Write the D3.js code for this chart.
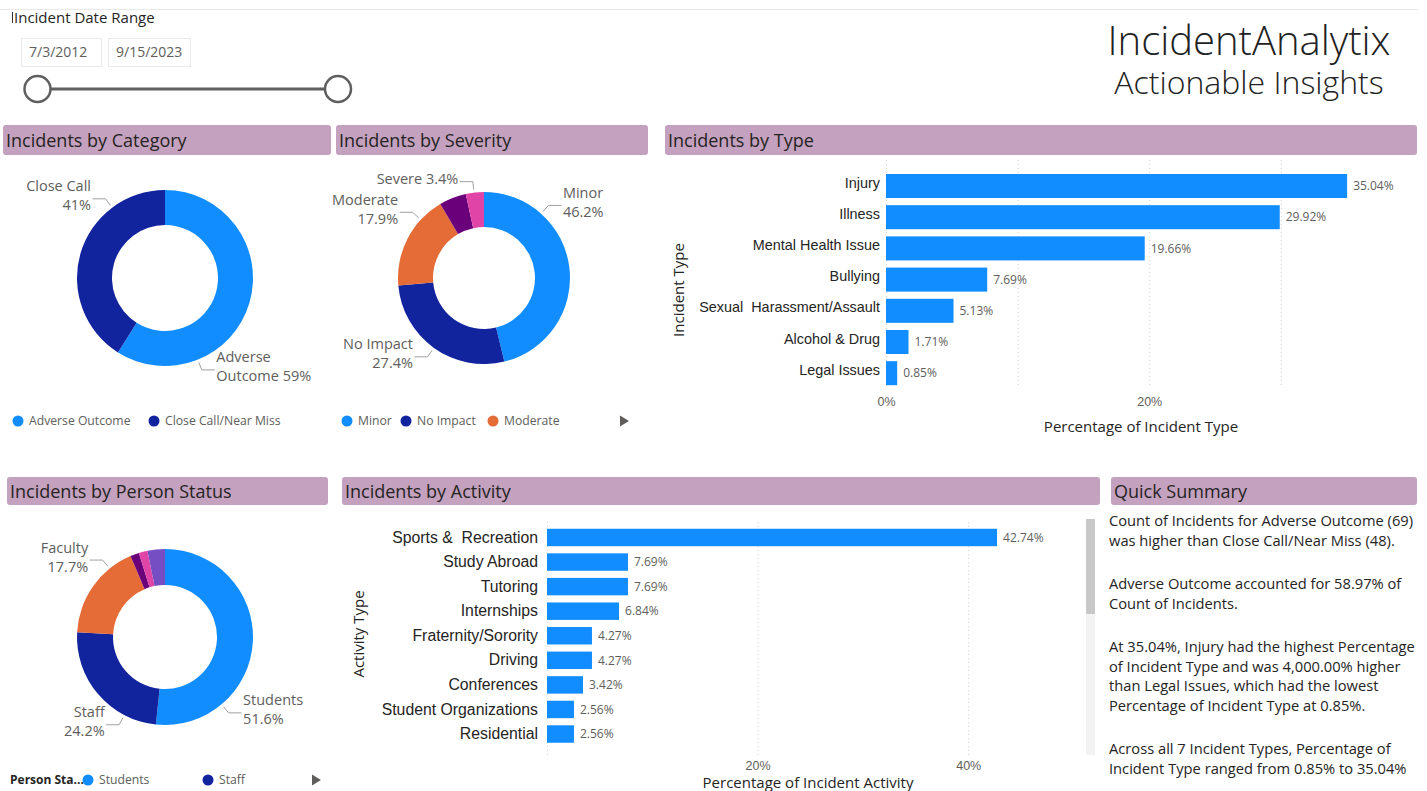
<!DOCTYPE html>
<html><head><meta charset="utf-8">
<script src="https://cdn.jsdelivr.net/npm/d3@7"></script>
<style>
body{margin:0;background:#fff;}
svg{display:block;font-family:"Open Sans","Noto Sans",sans-serif;}
text{white-space:pre;}
</style></head><body>
<svg id="c" width="1427" height="791"></svg>
<script>
// ---------- DATA ----------
const dateRange = ["7/3/2012", "9/15/2023"];
const categoryNames = ["Adverse Outcome", "Close Call/Near Miss"];
const categoryShort = ["Adverse Outcome", "Close Call"];
const categoryCounts = [69, 48];
const severityNames = ["Minor", "No Impact", "Moderate", "Major", "Severe"];
const severityPct = [46.2, 27.4, 17.9, 5.1, 3.4];
const personNames = ["Students", "Staff", "Faculty", "Contractors", "Visitors", "Volunteers"];
const personPct = [51.6, 24.2, 17.7, 1.6, 1.6, 3.2];
const typeNames = ["Injury", "Illness", "Mental Health Issue", "Bullying", "Sexual  Harassment/Assault", "Alcohol & Drug", "Legal Issues"];
const typePct = [35.04, 29.92, 19.66, 7.69, 5.13, 1.71, 0.85];
const typeTicks = [0, 10, 20, 30];
const typeTickLabels = ["0%", "", "20%", ""];
const activityNames = ["Sports &  Recreation", "Study Abroad", "Tutoring", "Internships", "Fraternity/Sorority", "Driving", "Conferences", "Student Organizations", "Residential"];
const activityPct = [42.74, 7.69, 7.69, 6.84, 4.27, 4.27, 3.42, 2.56, 2.56];
const activityTicks = [0, 20, 40];
const activityTickLabels = ["", "20%", "40%"];
const summaryParagraphs = [
  ["Count of Incidents for Adverse Outcome (69)", "was higher than Close Call/Near Miss (48)."],
  ["Adverse Outcome accounted for 58.97% of", "Count of Incidents."],
  ["At 35.04%, Injury had the highest Percentage", "of Incident Type and was 4,000.00% higher", "than Legal Issues, which had the lowest", "Percentage of Incident Type at 0.85%."],
  ["Across all 7 Incident Types, Percentage of", "Incident Type ranged from 0.85% to 35.04%"]
];

// ---------- STYLE ----------
const C = {
  blue: "#118DFF", navy: "#12239E", orange: "#E66C37", plum: "#6B007B", pink: "#E044A7", violet: "#744EC2",
  header: "#C4A1BE", title: "#252423", label: "#605E5C", leader: "#A0A0A0", grid: "#D0D0D0"
};
const svg = d3.select("#c");

// top separator
svg.append("line").attr("x1", 0).attr("x2", 1418).attr("y1", 9.5).attr("y2", 9.5).attr("stroke", "#E8E8E8");

// ---------- DATE SLICER ----------
svg.append("line").attr("x1", 12.5).attr("x2", 12.5).attr("y1", 12).attr("y2", 23).attr("stroke", "#333");
svg.append("text").attr("x", 14).attr("y", 23).attr("font-size", 15).attr("fill", C.title).text("Incident Date Range");
const boxes = [{x: 21, w: 80}, {x: 108, w: 82}];
boxes.forEach((b, i) => {
  svg.append("rect").attr("x", b.x + 0.5).attr("y", 38.5).attr("width", b.w).attr("height", 28)
    .attr("fill", "#fff").attr("stroke", "#EAEAEA");
  svg.append("text").attr("x", b.x + 8).attr("y", 52).attr("dy", "0.35em").attr("font-size", 14)
    .attr("fill", C.label).text(dateRange[i]);
});
svg.append("line").attr("x1", 50).attr("x2", 325).attr("y1", 89).attr("y2", 89).attr("stroke", "#5F5F5F").attr("stroke-width", 3);
[37.5, 338].forEach(cx => svg.append("circle").attr("cx", cx).attr("cy", 89).attr("r", 13)
  .attr("fill", "#fff").attr("stroke", "#5F5F5F").attr("stroke-width", 2.5));

// ---------- TITLE ----------
const ttl = svg.append("text").attr("text-anchor", "middle").attr("font-weight", 300).attr("fill", "#222");
ttl.append("tspan").attr("x", 1249).attr("y", 55).attr("font-size", 40).text("IncidentAnalytix");
ttl.append("tspan").attr("x", 1249).attr("y", 94).attr("font-size", 32).text("Actionable Insights");

// ---------- HEADERS ----------
function header(x, y, w, h, t) {
  svg.append("rect").attr("x", x).attr("y", y).attr("width", w).attr("height", h).attr("rx", 3).attr("fill", C.header);
  svg.append("text").attr("x", x + 3).attr("y", y + h / 2 + 1).attr("dy", "0.35em").attr("font-size", 18)
    .attr("fill", C.title).text(t);
}
header(3, 125, 328, 30, "Incidents by Category");
header(336, 125, 312, 30, "Incidents by Severity");
header(665, 125, 752, 30, "Incidents by Type");
header(7, 477, 321, 28, "Incidents by Person Status");
header(342, 477, 758, 28, "Incidents by Activity");
header(1111, 477, 306, 28, "Quick Summary");

// ---------- DONUTS ----------
function donut(cfg) {
  const g = svg.append("g");
  const pie = d3.pie().sort(null).value(d => d.v);
  const arcs = pie(cfg.data);
  const arc = d3.arc().innerRadius(cfg.r).outerRadius(cfg.R);
  g.selectAll("path").data(arcs).join("path")
    .attr("transform", `translate(${cfg.cx},${cfg.cy})`)
    .attr("d", arc).attr("fill", d => d.data.c);
  cfg.labels.forEach(L => {
    const a = arcs[L.i];
    const ang = a.startAngle + (a.endAngle - a.startAngle) * L.f;
    const pol = rr => [cfg.cx + rr * Math.sin(ang), cfg.cy - rr * Math.cos(ang)];
    const p1 = pol(cfg.R + 3), p2 = pol(cfg.R + 11);
    const side = Math.sin(ang) >= 0 ? 1 : -1;
    const p3 = [p2[0] + side * 13, p2[1]];
    g.append("polyline").attr("points", [p1, p2, p3].map(p => p.join(",")).join(" "))
      .attr("fill", "none").attr("stroke", C.leader).attr("stroke-width", 1);
    const n = L.lines.length;
    L.lines.forEach((ln, k) => {
      g.append("text").attr("x", p3[0] + side * 1.5)
        .attr("y", p3[1] - 3 + (k - (n - 1) / 2) * 19)
        .attr("dy", "0.35em").attr("text-anchor", side > 0 ? "start" : "end")
        .attr("font-size", 14.5).attr("fill", C.label).text(ln);
    });
  });
}
function legend(items, y) {
  items.forEach(it => {
    svg.append("circle").attr("cx", it.x).attr("cy", y).attr("r", 5.5).attr("fill", it.c);
    svg.append("text").attr("x", it.x + 11).attr("y", y).attr("dy", "0.35em").attr("font-size", 12.2)
      .attr("fill", C.label).text(it.t);
  });
}
function arrow(x, y) {
  svg.append("path").attr("d", `M${x},${y - 5.5}L${x + 9},${y}L${x},${y + 5.5}Z`).attr("fill", "#605E5C");
}

// Category
const catTotal = d3.sum(categoryCounts);
const catPctTxt = categoryCounts.map(v => Math.round(v / catTotal * 100) + "%");
donut({
  cx: 165, cy: 278, R: 88, r: 53,
  data: categoryNames.map((n, i) => ({n, v: categoryCounts[i], c: [C.blue, C.navy][i]})),
  labels: [
    {i: 0, f: 0.745, lines: ["Adverse", "Outcome " + catPctTxt[0]]},
    {i: 1, f: 0.75, lines: [categoryShort[1], catPctTxt[1]]}
  ]
});
legend([{x: 18, c: C.blue, t: categoryNames[0]}, {x: 154, c: C.navy, t: categoryNames[1]}], 421);

// Severity
const sevColors = [C.blue, C.navy, C.orange, C.plum, C.pink];
donut({
  cx: 484, cy: 278, R: 86, r: 51,
  data: severityNames.map((n, i) => ({n, v: severityPct[i], c: sevColors[i]})),
  labels: [
    {i: 0, f: 0.25, lines: [severityNames[0], severityPct[0].toFixed(1) + "%"]},
    {i: 1, f: 0.5, lines: [severityNames[1], severityPct[1].toFixed(1) + "%"]},
    {i: 2, f: 0.74, lines: [severityNames[2], severityPct[2].toFixed(1) + "%"]},
    {i: 4, f: 0.46, lines: [severityNames[4] + " " + severityPct[4].toFixed(1) + "%"]}
  ]
});
legend([{x: 347, c: C.blue, t: severityNames[0]}, {x: 406, c: C.navy, t: severityNames[1]}, {x: 493, c: C.orange, t: severityNames[2]}], 421);
arrow(620, 421);

// Person status
const perColors = [C.blue, C.navy, C.orange, C.plum, C.pink, C.violet];
donut({
  cx: 165, cy: 637, R: 88, r: 52,
  data: personNames.map((n, i) => ({n, v: personPct[i], c: perColors[i]})),
  labels: [
    {i: 0, f: 0.753, lines: [personNames[0], personPct[0].toFixed(1) + "%"]},
    {i: 1, f: 0.248, lines: [personNames[1], personPct[1].toFixed(1) + "%"]},
    {i: 2, f: 0.75, lines: [personNames[2], personPct[2].toFixed(1) + "%"]}
  ]
});
svg.append("text").attr("x", 10).attr("y", 780).attr("dy", "0.35em").attr("font-size", 12).attr("font-weight", 700)
  .attr("fill", C.title).text("Person Sta...");
legend([{x: 88, c: C.blue, t: personNames[0]}, {x: 208, c: C.navy, t: personNames[1]}], 780);
arrow(312, 780);

// ---------- BAR CHARTS ----------
function barChart(cfg) {
  const g = svg.append("g");
  const x = d3.scaleLinear().domain(cfg.domain).range(cfg.xr);
  const y = d3.scaleBand().domain(cfg.names).range(cfg.yr).paddingInner(cfg.pad).paddingOuter(cfg.pad / 2);
  // grid
  g.selectAll(".grid").data(cfg.ticks).join("line")
    .attr("x1", d => x(d) + 0.5).attr("x2", d => x(d) + 0.5)
    .attr("y1", cfg.gy[0]).attr("y2", cfg.gy[1])
    .attr("stroke", C.grid).attr("stroke-dasharray", "1,3");
  // axis tick labels
  const ax = d3.axisBottom(x).tickValues(cfg.ticks).tickSize(0).tickFormat((d, i) => cfg.tickLabels[i]);
  const axg = g.append("g").attr("transform", `translate(0,${cfg.tickY})`).call(ax);
  axg.select(".domain").remove();
  axg.selectAll("text").attr("font-size", 12.5).attr("fill", C.label).attr("font-family", null).attr("dy", "0.35em").attr("y", 0);
  // bars
  g.selectAll(".bar").data(cfg.names).join("rect")
    .attr("x", x(0)).attr("y", d => y(d))
    .attr("width", (d, i) => x(cfg.values[i]) - x(0)).attr("height", y.bandwidth())
    .attr("fill", C.blue);
  // values
  g.selectAll(".val").data(cfg.names).join("text")
    .attr("x", (d, i) => x(cfg.values[i]) + 6).attr("y", d => y(d) + y.bandwidth() / 2).attr("dy", "0.35em")
    .attr("font-size", 12).attr("fill", C.label).text((d, i) => cfg.values[i].toFixed(2) + "%");
  // category axis
  const ay = d3.axisLeft(y).tickSize(0).tickPadding(0);
  const ayg = g.append("g").attr("transform", `translate(${cfg.labelX},${cfg.labelDy})`).call(ay);
  ayg.select(".domain").remove();
  ayg.selectAll("text").attr("font-size", cfg.catFont).attr("fill", C.title).attr("font-family", null);
  // titles
  g.append("text").attr("transform", `translate(${cfg.yTitle[0]},${cfg.yTitle[1]}) rotate(-90)`)
    .attr("text-anchor", "middle").attr("dy", "0.35em").attr("font-size", 15).attr("fill", C.title).text(cfg.yTitleText);
  g.append("text").attr("x", cfg.xTitle[0]).attr("y", cfg.xTitle[1]).attr("dy", "0.35em")
    .attr("text-anchor", "middle").attr("font-size", 15).attr("fill", C.title).text(cfg.xTitleText);
}
barChart({
  names: typeNames, values: typePct, domain: [0, 40], xr: [886, 886 + 40 * 13.16],
  yr: [170.4, 388.8], pad: 0.23, ticks: typeTicks, tickLabels: typeTickLabels, gy: [160, 388], tickY: 402,
  labelX: 880, labelDy: -3, catFont: 14.4, yTitle: [679, 290], yTitleText: "Incident Type",
  xTitle: [1141, 427], xTitleText: "Percentage of Incident Type"
});
barChart({
  names: activityNames, values: activityPct, domain: [0, 50], xr: [547, 547 + 50 * 10.53],
  yr: [525.2, 746.3], pad: 0.29, ticks: activityTicks, tickLabels: activityTickLabels, gy: [522, 755], tickY: 766,
  labelX: 538, labelDy: 0, catFont: 15.8, yTitle: [359, 634], yTitleText: "Activity Type",
  xTitle: [808, 783], xTitleText: "Percentage of Incident Activity"
});
// scrollbar
svg.append("rect").attr("x", 1086).attr("y", 519).attr("width", 9).attr("height", 236).attr("fill", "#F3F3F3");
svg.append("rect").attr("x", 1086).attr("y", 519).attr("width", 9).attr("height", 95).attr("fill", "#C8C8C8");

// ---------- SUMMARY ----------
let yy = 521;
summaryParagraphs.forEach((p, pi) => {
  p.forEach((ln, li) => {
    svg.append("text").attr("x", 1109).attr("y", yy).attr("dy", "0.35em").attr("font-size", 14.7)
      .attr("fill", C.title).text(ln);
    yy += 19.4;
  });
  yy += 24.3;
});
</script>
</body></html>
